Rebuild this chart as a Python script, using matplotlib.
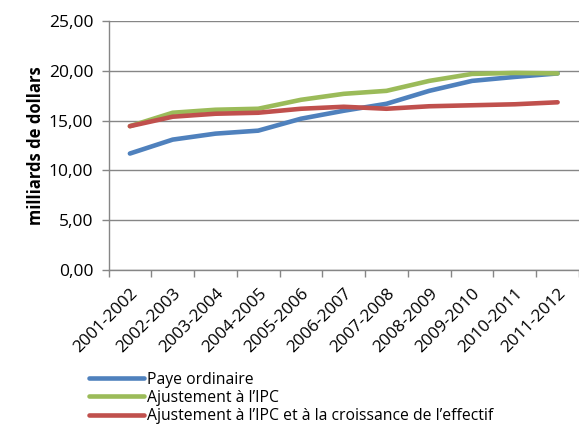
import matplotlib.pyplot as plt
from matplotlib.ticker import FuncFormatter

plt.rcParams['font.family'] = ['Open Sans', 'DejaVu Sans']

years = ["2001-2002", "2002-2003", "2003-2004", "2004-2005", "2005-2006", "2006-2007",
         "2007-2008", "2008-2009", "2009-2010", "2010-2011", "2011-2012"]
paye = [11.7, 13.1, 13.7, 14.0, 15.2, 16.0, 16.7, 18.0, 19.0, 19.4, 19.75]
ipc = [14.45, 15.8, 16.1, 16.2, 17.1, 17.7, 18.0, 19.0, 19.7, 19.8, 19.75]
ipc_eff = [14.45, 15.4, 15.7, 15.8, 16.2, 16.4, 16.2, 16.45, 16.55, 16.65, 16.85]

fig = plt.figure(figsize=(5.79, 4.32), dpi=100)
ax = fig.add_axes([0.1874, 0.375, 0.8126, 0.576])

x = range(len(years))
ax.plot(x, paye, color="#4F81BD", lw=3.3, label="Paye ordinaire", solid_capstyle="round")
ax.plot(x, ipc, color="#9BBB59", lw=3.3, label="Ajustement à l’IPC", solid_capstyle="round")
ax.plot(x, ipc_eff, color="#C0504D", lw=3.3, label="Ajustement à l’IPC et à la croissance de l’effectif",
        solid_capstyle="round")

grey = "#868686"
ax.set_xlim(-0.5, len(years) - 0.5)
ax.set_ylim(0, 25)
ax.set_yticks([0, 5, 10, 15, 20, 25])
ax.yaxis.set_major_formatter(FuncFormatter(lambda v, p: f"{v:.2f}".replace(".", ",")))
ax.grid(axis="y", color=grey, lw=1)
ax.set_axisbelow(True)

ax.set_xticks(list(x))
ax.set_xticklabels(years, rotation=45, ha="right", rotation_mode="anchor")
ax.set_xticks([i - 0.5 for i in range(len(years) + 1)], minor=True)
ax.tick_params(axis="x", which="major", length=0, pad=11, labelsize=12.3)
ax.tick_params(axis="x", which="minor", length=5, color=grey, width=1)
ax.tick_params(axis="y", length=5, color=grey, width=1, labelsize=12.5, pad=6)

for s in ["top", "right"]:
    ax.spines[s].set_visible(False)
for s in ["left", "bottom"]:
    ax.spines[s].set_color(grey)
    ax.spines[s].set_linewidth(1)

ax.set_ylabel("milliards de dollars", fontsize=12, fontweight="bold", labelpad=3)

fig.legend(loc="upper left", bbox_to_anchor=(0.14, 0.158), frameon=False, fontsize=11.3,
           handlelength=3.5, handletextpad=0.2, labelspacing=0.15, borderpad=0)

fig.savefig("out.png", dpi=100)
